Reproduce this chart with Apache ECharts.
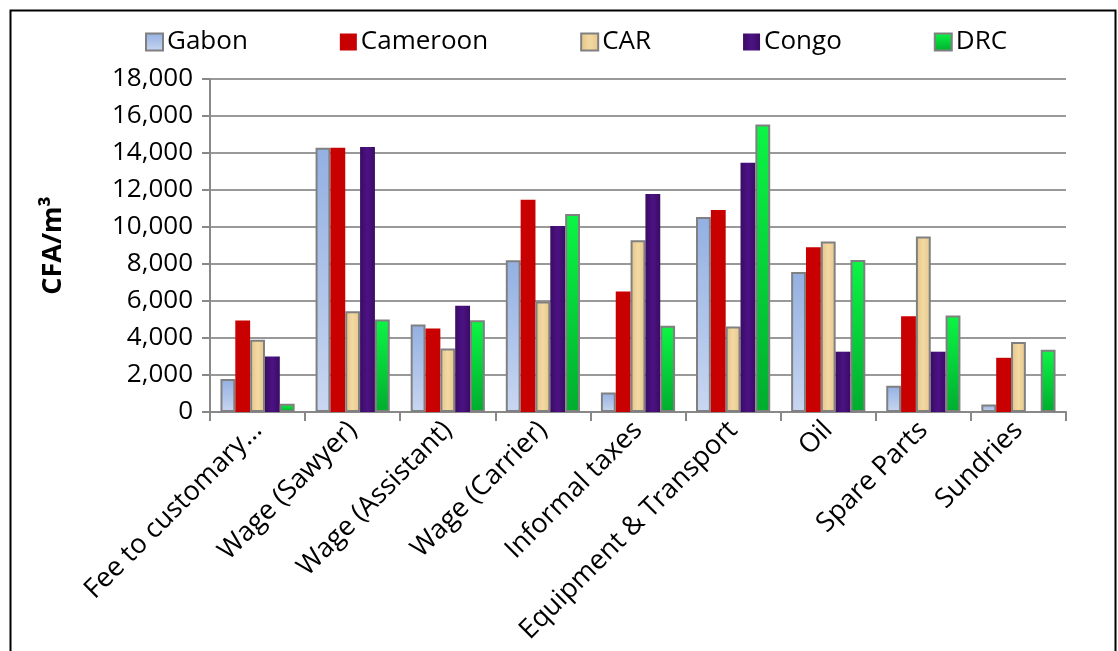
<!DOCTYPE html>
<html>
<head>
<meta charset="utf-8">
<script src="https://cdn.jsdelivr.net/npm/echarts@6/dist/echarts.min.js"></script>
<style>
html,body{margin:0;padding:0;background:#fff;}
#chart{width:1118px;height:651px;}
</style>
</head>
<body>
<div id="chart"></div>
<script>
const categories = ["Fee to customary…","Wage (Sawyer)","Wage (Assistant)","Wage (Carrier)","Informal taxes","Equipment & Transport","Oil","Spare Parts","Sundries"];
const seriesNames = ["Gabon","Cameroon","CAR","Congo","DRC"];
const gabon    = [1780, 14280, 4730, 8200, 1060, 10540, 7570, 1420, 410];
const cameroon = [4950, 14280, 4510, 11470, 6510, 10920, 8900, 5180, 2930];
const car      = [3900, 5450, 3430, 5970, 9280, 4620, 9210, 9480, 3780];
const congo    = [3000, 14330, 5740, 10050, 11780, 13470, 3260, 3260, 0];
const drc      = [450, 5000, 4960, 10700, 4660, 15540, 8220, 5220, 3360];
const yTicks = {min: 0, max: 18000, interval: 2000};

const FONT = "Open Sans";
const grad = (top, bottom) => new echarts.graphic.LinearGradient(0,0,0,1,[{offset:0,color:top},{offset:1,color:bottom}]);
const styles = [
  {color: grad('#93b0e2','#c8d6f1'), borderColor:'#808080', borderWidth:2},
  {color: '#c80000', borderColor:'#d01010', borderWidth:0},
  {color: new echarts.graphic.LinearGradient(0,0,1,0,[{offset:0,color:'#e2c48a'},{offset:0.5,color:'#f3d9a2'},{offset:1,color:'#e6c68c'}]), borderColor:'#808080', borderWidth:2},
  {color: new echarts.graphic.LinearGradient(0,0,1,0,[{offset:0,color:'#3a0c62'},{offset:0.5,color:'#4c1285'},{offset:1,color:'#3a0c62'}]), borderColor:'#3a0c62', borderWidth:0},
  {color: grad('#0cf545','#00ad2e'), borderColor:'#808080', borderWidth:2}
];
const values = [gabon, cameroon, car, congo, drc];

const chart = echarts.init(document.getElementById('chart'), null, {renderer:'canvas'});
chart.setOption({
  animation: false,
  textStyle: {fontFamily: FONT},
  graphic: [{
    type: 'rect', left: 8, top: 8, z: -10,
    shape: {x: 0, y: 0, width: 1105, height: 700},
    style: {fill: 'none', stroke: '#000', lineWidth: 2}
  }],
  legend: {
    left: 140, top: 24,
    itemWidth: 17, itemHeight: 17, itemGap: 92,
    textStyle: {fontSize: 26, color: '#000', fontFamily: FONT, padding: [0,0,0,-1]},
    data: seriesNames.map((n,i) => ({name: n, icon: 'rect'}))
  },
  grid: {left: 210, right: 52, top: 79, bottom: 239, containLabel: false},
  xAxis: {
    type: 'category',
    data: categories,
    axisLine: {lineStyle: {color: '#888', width: 2}},
    axisTick: {show: true, alignWithLabel: false, length: 9, lineStyle: {color: '#888', width: 2}},
    axisLabel: {rotate: 45, fontSize: 27, color: '#000', fontFamily: FONT, margin: 14, interval: 0}
  },
  yAxis: {
    type: 'value',
    min: yTicks.min, max: yTicks.max, interval: yTicks.interval,
    name: 'CFA/m³', nameLocation: 'middle', nameGap: 143, nameRotate: 90,
    nameTextStyle: {fontSize: 27, fontWeight: 'bold', color: '#000', fontFamily: FONT},
    axisLine: {show: true, lineStyle: {color: '#888', width: 2}},
    axisTick: {show: true, length: 8, lineStyle: {color: '#888', width: 2}},
    axisLabel: {fontSize: 26, color: '#000', fontFamily: FONT, margin: 17,
      formatter: v => v.toLocaleString('en-US')},
    splitLine: {show: true, lineStyle: {color: '#999', width: 2}}
  },
  series: seriesNames.map((n,i) => ({
    name: n, type: 'bar', data: values[i],
    barGap: '0%', barCategoryGap: '22%',
    itemStyle: styles[i]
  }))
});
</script>
</body>
</html>
